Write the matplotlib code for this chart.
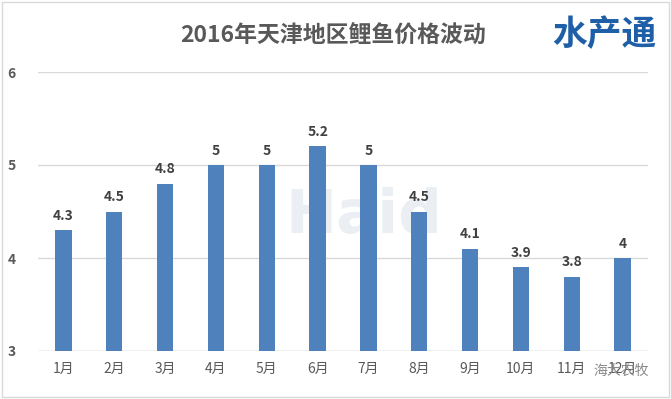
import matplotlib
matplotlib.use("Agg")
import matplotlib.pyplot as plt
from matplotlib.patches import Rectangle

plt.rcParams['font.family'] = ['Noto Sans CJK SC', 'DejaVu Sans']

months = ['1月', '2月', '3月', '4月', '5月', '6月', '7月', '8月', '9月', '10月', '11月', '12月']
prices = [4.3, 4.5, 4.8, 5, 5, 5.2, 5, 4.5, 4.1, 3.9, 3.8, 4]
value_labels = ['4.3', '4.5', '4.8', '5', '5', '5.2', '5', '4.5', '4.1', '3.9', '3.8', '4']
y_ticks = [3, 4, 5, 6]

BAR_COLOR = '#4F81BD'
TEXT_COLOR = '#595959'

fig = plt.figure(figsize=(6.71, 3.99), dpi=100)
ax = fig.add_axes([38 / 671, 1 - 351 / 399, 610 / 671, 279 / 399])

x = range(len(months))
ax.bar(x, prices, width=0.32, color=BAR_COLOR, zorder=3)

for i, (v, lab) in enumerate(zip(prices, value_labels)):
    ax.text(i, v + 0.08, lab, ha='center', va='bottom', fontsize=10,
            fontweight='bold', color='#404040', zorder=4)

ax.set_xlim(-0.5, len(months) - 0.5)
ax.set_ylim(3, 6)
ax.set_yticks(y_ticks)
ax.set_yticklabels([str(t) for t in y_ticks], fontweight='bold')
ax.set_xticks(list(x))
ax.set_xticklabels(months)
ax.tick_params(axis='both', length=0, labelsize=10, colors=TEXT_COLOR)
ax.tick_params(axis='x', pad=8)
ax.tick_params(axis='y', pad=16)
ax.grid(axis='y', color='#D9D9D9', linewidth=1, zorder=0)
for s in ax.spines.values():
    s.set_visible(False)
ax.axhline(3, color='#D9D9D9', linewidth=1, zorder=1)

# watermark behind the bars
ax.text(5.9, 4.45, 'Haid', fontsize=44, fontweight='bold', color='#EBEEF3',
        ha='center', va='center', zorder=1, fontfamily='DejaVu Sans')

fig.text(0.497, 1 - 36 / 399, '2016年天津地区鲤鱼价格波动', ha='center', va='center',
         fontsize=16.5, fontweight='bold', color=TEXT_COLOR)
fig.text(0.9, 1 - 35 / 399, '水产通', ha='center', va='center', fontsize=25,
         fontweight='black', color='#1F5FA8')
fig.text(0.925, 1 - 371 / 399, '海大农牧', ha='center', va='center', fontsize=10,
         color='#8A8A8A')

fig.patches.append(Rectangle((0.003, 0.004), 0.994, 0.99, transform=fig.transFigure,
                             fill=False, edgecolor='#D9D9D9', linewidth=1))

fig.savefig('out.png', dpi=100)
